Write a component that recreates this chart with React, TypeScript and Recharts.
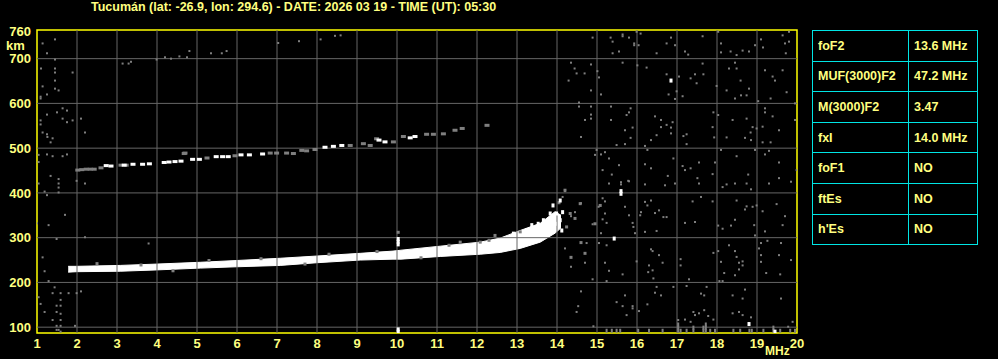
import { ComposedChart, Area, Scatter, XAxis, YAxis, ReferenceLine, ReferenceArea } from 'recharts';

const freqTicks = [1, 2, 3, 4, 5, 6, 7, 8, 9, 10, 11, 12, 13, 14, 15, 16, 17, 18, 19, 20];
const heightTicks = [100, 200, 300, 400, 500, 600, 700, 760];
const gridFreqs = [2, 3, 4, 5, 6, 7, 8, 9, 10, 11, 12, 13, 14, 15, 16, 17, 18, 19];
const gridHeights = [100, 200, 300, 400, 500, 600, 700];

const title = 'Tucumán (lat: -26.9, lon: 294.6) - DATE: 2026 03 19 - TIME (UT): 05:30';

const paramNames = ['foF2', 'MUF(3000)F2', 'M(3000)F2', 'fxI', 'foF1', 'ftEs', "h'Es"];
const paramValues = ['13.6 MHz', '47.2 MHz', '3.47', '14.0 MHz', 'NO', 'NO', 'NO'];

// F2 trace (virtual height band, km)
const traceFreq = [1.78, 2.0, 3.08, 4.0, 5.08, 6.0, 7.08, 8.0, 9.08, 9.9, 10.1, 11.08, 12.08, 12.58, 13.08, 13.58, 13.95, 14.1];
const traceLow = [223, 224, 225, 228, 232, 235, 238, 244, 250, 252, 252, 258, 263, 267, 276, 290, 310, 322];
const traceHigh = [236, 236, 238, 241, 245, 249, 254, 259, 265, 270, 272, 281, 290, 299, 316, 332, 358, 350];

// second hop echo
const echoWhite: [number, number][] = [
  [2.73, 461], [2.85, 460], [3.18, 462], [3.4, 464], [3.64, 464], [3.81, 465], [4.18, 468], [4.3, 469],
  [4.45, 470], [4.6, 471], [4.89, 475], [5.06, 475], [5.48, 481], [5.64, 481], [5.78, 481], [6.1, 485],
  [6.31, 485], [6.64, 487], [8.2, 502], [8.41, 504], [8.62, 506], [9.55, 518], [9.7, 514], [10.33, 523],
  [10.45, 526],
];
const echoGray: [number, number][] = [
  [2.02, 451], [2.12, 452], [2.23, 453], [2.33, 453], [2.43, 453], [2.6, 456], [3.1, 462], [3.23, 462],
  [4.68, 488], [5.25, 478], [5.95, 483], [6.83, 489], [6.99, 489], [7.24, 489], [7.41, 488], [7.62, 495],
  [7.74, 494], [7.95, 497], [8.83, 506], [9.16, 510], [9.33, 506], [9.49, 521], [9.91, 514], [10.16, 526],
  [10.74, 531], [10.91, 531], [11.16, 532], [11.45, 540], [11.63, 544], [12.25, 551], [4.7, 489],
];

// bright returns near the trace
const brightDots: [number, number][] = [
  [10.03, 285], [10.03, 291], [10.03, 297], [10.03, 90], [10.03, 95], [13.83, 354], [13.99, 354],
  [14.08, 383], [13.9, 372], [14.14, 357], [13.87, 343], [14.08, 339], [13.95, 331], [14.12, 316],
  [13.66, 339], [13.53, 331], [13.37, 328], [13.24, 317], [12.91, 309], [15.6, 398], [15.6, 404],
  [15.43, 298], [16.85, 651], [18.8, 107], [19.45, 90],
];

const clusterGray: [number, number][] = [
  [14.2, 406], [14.05, 378], [14.33, 354], [14.58, 376], [14.45, 343], [14.24, 324], [13.08, 313],
  [12.45, 305], [12.08, 290], [11.58, 290], [10.03, 312], [14.95, 331], [15.08, 372], [14.6, 289],
  [14.35, 256], [14.7, 265], [2.5, 242], [3.6, 239], [5.3, 249], [6.6, 253], [8.3, 263], [9.5, 269],
  [11.3, 283], [12.3, 294], [4.4, 226], [7.7, 241], [10.6, 255],
];

const noiseLeft: [number, number][] = [
  [1.14, 734], [1.45, 743], [1.25, 712], [1.45, 698], [1.1, 678], [1.45, 678], [1.45, 669], [1.89, 669],
  [1.45, 651], [1.14, 638], [1.45, 633], [1.54, 629], [1.09, 615], [1.09, 611], [1.25, 620], [1.25, 575],
  [1.5, 580], [1.64, 589], [1.75, 584], [1.64, 566], [1.75, 558], [1.89, 562], [2.1, 566], [1.09, 562],
  [1.09, 553], [1.14, 535], [1.25, 531], [1.39, 522], [1.34, 513], [2.2, 535], [1.04, 485], [1.25, 486],
  [1.39, 482], [1.64, 482], [1.75, 486], [1.04, 469], [1.34, 438], [1.54, 431], [1.54, 421], [1.54, 412],
  [1.54, 401], [1.04, 421], [1.99, 427], [2.2, 421], [1.19, 403], [1.25, 395], [1.7, 351], [1.29, 328],
  [1.0, 332], [2.2, 301], [1.49, 297], [3.79, 287], [1.14, 256], [1.19, 225], [1.29, 203], [1.44, 189],
  [1.39, 176], [1.59, 176], [1.79, 176], [1.99, 176], [2.1, 180], [1.04, 167], [1.09, 152], [1.49, 148],
  [1.59, 148], [1.59, 161], [1.19, 134], [1.49, 134], [1.59, 130], [1.39, 116], [1.59, 116], [1.49, 103],
  [1.59, 103], [1.95, 103], [1.54, 94], [1.59, 90], [1.49, 94], [1.26, 525], [3.14, 689], [3.29, 689],
  [3.35, 693], [3.99, 698], [4.2, 703], [4.35, 700], [4.56, 705], [4.75, 703], [4.81, 717], [5.35, 712],
  [5.62, 712], [5.74, 717], [7.03, 735], [7.55, 739], [8.09, 743], [8.45, 751], [8.59, 752],
];

const noiseRight: [number, number][] = [
  [14.89, 747], [15.34, 747], [15.64, 754], [15.64, 750], [15.39, 738], [15.8, 747], [15.93, 734], [15.93, 730],
  [15.99, 760], [16.09, 756], [16.04, 730], [15.55, 716], [15.39, 712], [16.49, 712], [16.74, 734],
  [16.85, 747], [16.95, 730], [17.28, 709], [17.2, 716], [17.64, 750], [18.03, 760], [18.1, 734],
  [18.1, 714], [18.34, 716], [18.49, 708], [18.64, 718], [18.8, 716], [18.95, 730], [19.1, 743],
  [19.15, 725], [19.64, 752], [19.7, 734], [19.8, 760], [19.8, 738], [19.72, 712],
  [14.35, 691], [14.44, 678], [14.49, 667], [14.69, 667], [14.85, 687], [14.29, 651], [14.85, 629],
  [15.01, 672], [15.05, 658], [15.1, 620], [15.64, 691], [16.01, 685], [16.24, 680], [16.74, 665],
  [16.79, 620], [16.95, 610], [16.99, 627], [17.05, 660], [17.14, 616], [17.34, 656], [17.45, 665],
  [17.49, 645], [17.64, 689], [17.66, 665], [17.99, 639], [18.24, 629], [18.3, 678], [18.45, 691],
  [18.49, 678], [18.59, 651], [18.6, 618], [18.45, 611], [18.74, 618], [18.8, 633], [19.03, 605],
  [19.2, 674], [19.39, 660], [19.45, 651], [19.64, 674], [19.74, 625], [19.34, 611], [19.95, 600],
  [14.55, 602], [14.55, 593], [14.85, 593], [14.85, 575], [14.85, 566], [14.7, 563], [14.6, 525],
  [15.35, 593], [15.35, 563], [15.74, 574], [15.84, 589], [15.8, 580], [15.89, 546], [15.7, 540],
  [15.84, 523], [15.49, 507], [15.7, 509], [16.45, 571], [16.6, 563], [16.74, 552], [16.85, 546],
  [16.89, 558], [16.49, 529], [16.35, 518], [16.6, 547], [16.85, 533], [17.16, 527], [17.24, 509],
  [17.24, 531], [17.91, 580], [18.03, 574], [17.89, 547], [17.93, 524], [18.24, 524], [18.39, 563],
  [18.74, 566], [18.89, 547], [18.84, 535], [18.7, 523], [18.85, 518], [19.14, 548], [19.2, 589],
  [19.2, 580], [19.39, 571], [19.55, 540], [19.14, 513], [19.34, 513], [19.95, 563], [18.99, 544],
  [14.99, 496], [14.95, 485], [15.1, 486], [15.2, 491], [15.3, 477], [15.14, 451], [15.37, 441],
  [15.55, 462], [15.6, 424], [15.78, 427], [16.2, 505], [16.26, 496], [16.2, 464], [16.35, 455],
  [16.91, 477], [16.77, 438], [17.14, 460], [17.2, 451], [17.34, 455], [17.55, 468], [17.51, 433],
  [17.95, 468], [17.89, 442], [18.1, 496], [18.49, 482], [18.78, 441], [18.95, 496], [19.2, 486],
  [19.3, 494], [19.55, 468], [19.55, 433], [19.99, 451], [19.85, 425],
  [15.3, 421], [15.6, 419], [15.8, 426], [16.2, 419], [16.7, 417], [16.95, 421], [17.55, 421],
  [18.14, 413], [18.24, 419], [18.45, 421], [18.74, 421], [18.85, 408], [19.3, 421], [14.2, 404],
  [14.14, 391], [15.14, 388], [15.2, 381], [14.6, 377], [14.45, 357], [14.35, 348], [15.04, 369],
  [15.2, 354], [15.14, 341], [15.24, 333], [14.89, 330], [15.1, 310], [15.7, 369], [15.8, 350],
  [15.89, 333], [15.91, 324], [15.95, 310], [16.1, 357], [16.08, 350], [16.2, 380], [16.26, 372],
  [16.35, 383], [16.45, 355], [16.55, 361], [16.66, 346], [16.74, 346], [16.49, 315], [16.2, 313],
  [17.2, 333], [17.45, 335], [17.39, 381], [17.6, 391], [17.89, 381], [18.03, 327], [18.14, 320],
  [18.35, 327], [18.45, 340], [18.49, 383], [18.74, 370], [18.89, 369], [18.7, 363], [18.99, 372],
  [19.14, 359], [18.93, 328], [18.95, 305], [19.2, 314], [19.49, 375], [19.7, 348], [19.64, 328],
  [14.2, 276], [14.35, 235], [14.74, 288], [14.7, 244], [14.89, 207], [15.05, 288], [15.24, 283],
  [15.2, 244], [15.3, 226], [15.24, 203], [15.64, 218], [15.99, 247], [16.35, 274], [16.39, 270],
  [16.55, 261], [16.64, 244], [16.3, 238], [16.39, 227], [16.41, 209], [16.28, 223], [17.09, 252],
  [17.09, 238], [17.3, 207], [17.91, 266], [18.03, 270], [18.1, 246], [18.3, 283], [18.45, 270],
  [18.49, 257], [18.55, 244], [18.64, 247], [18.64, 238], [18.55, 229], [18.18, 221], [18.45, 216],
  [18.06, 203], [18.14, 203], [19.1, 288], [19.05, 276], [19.1, 261], [19.1, 246], [19.26, 293],
  [19.6, 288], [19.55, 261], [19.85, 250], [19.23, 221], [19.58, 218],
  [14.6, 180], [14.53, 147], [14.49, 134], [14.91, 102], [15.7, 171], [15.49, 156], [15.64, 147],
  [15.89, 147], [15.89, 142], [15.74, 127], [16.05, 136], [16.26, 151], [16.49, 190], [16.45, 177],
  [16.6, 171], [16.91, 190], [17.24, 192], [17.03, 116], [17.2, 117], [17.34, 112], [17.41, 134],
  [17.45, 127], [17.55, 131], [17.6, 175], [17.68, 171], [17.74, 190], [17.68, 138], [17.78, 125],
  [17.91, 117], [18.39, 171], [18.39, 131], [18.55, 134], [18.64, 127], [18.64, 164], [18.7, 184],
  [18.85, 122], [19.6, 164], [19.89, 112], [19.78, 101],
];

// returns along the lower edge of the plot
const noiseBottom: [number, number][] = [
  [15.24, 92], [15.37, 92], [15.49, 92], [15.58, 92], [16.03, 92], [16.3, 92], [16.64, 92],
  [17.03, 92], [17.03, 99], [17.03, 106], [17.09, 92], [17.24, 92], [17.41, 92], [17.41, 99],
  [17.66, 92], [17.66, 99], [17.72, 92], [17.72, 99], [17.72, 106], [17.83, 92], [17.95, 92],
  [18.41, 92], [18.58, 92], [18.81, 92], [18.87, 92], [19.16, 92], [19.41, 92], [19.41, 99],
  [19.58, 92], [19.83, 92], [19.95, 92],
];

const YELLOW = '#ffff80';
const GRAY = '#7f7f7f';
const GRID = '#666666';

const toPoints = (list: [number, number][]) => list.map(([f, km]) => ({ f, km }));
const traceData = traceFreq.map((f, i) => ({ f, band: [traceLow[i], traceHigh[i]] }));

const box = (w: number, h: number, fill: string) => (props: any) => (
  <rect x={props.cx - w / 2} y={props.cy - h / 2} width={w} height={h} fill={fill} />
);

const font = '"Liberation Sans", Arial, sans-serif';

export default function App() {
  return (
    <div style={{ position: 'fixed', left: 0, top: 0, width: 998, height: 359, background: '#000', overflow: 'hidden', fontFamily: font }}>
      <div style={{ position: 'absolute', left: 91, top: 0, color: YELLOW, fontSize: 12.5, lineHeight: '14px', fontWeight: 'bold', whiteSpace: 'nowrap' }}>
        {title}
      </div>
      <ComposedChart width={998} height={359} data={traceData} margin={{ top: 30, right: 201, bottom: 0, left: 0 }}>
        <XAxis
          dataKey="f"
          type="number"
          domain={[1, 20]}
          ticks={freqTicks}
          interval={0}
          allowDataOverflow
          height={26}
          tickLine={false}
          axisLine={false}
          tickSize={4}
          tick={{ fill: YELLOW, fontSize: 13, fontWeight: 'bold', fontFamily: font }}
        />
        <YAxis
          dataKey="km"
          type="number"
          domain={[87, 764]}
          ticks={heightTicks}
          interval={0}
          allowDataOverflow
          width={37}
          tickLine={false}
          axisLine={false}
          tickSize={4}
          tick={{ fill: YELLOW, fontSize: 13, fontWeight: 'bold', fontFamily: font }}
        />
        {gridFreqs.map((v) => (
          <ReferenceLine key={'gx' + v} x={v} stroke={GRID} strokeWidth={1} />
        ))}
        {gridHeights.map((v) => (
          <ReferenceLine key={'gy' + v} y={v} stroke={GRID} strokeWidth={1} />
        ))}
        <Scatter data={toPoints(noiseLeft)} dataKey="km" shape={box(2, 2, GRAY)} isAnimationActive={false} />
        <Scatter data={toPoints(noiseRight)} dataKey="km" shape={box(2, 2, GRAY)} isAnimationActive={false} />
        <Scatter data={toPoints(noiseBottom)} dataKey="km" shape={box(2, 4, GRAY)} isAnimationActive={false} />
        <Scatter data={toPoints(echoGray)} dataKey="km" shape={box(5, 3, GRAY)} isAnimationActive={false} />
        <Scatter data={toPoints(echoWhite)} dataKey="km" shape={box(5, 3, '#ffffff')} isAnimationActive={false} />
        <Area
          type="linear"
          dataKey="band"
          stroke="#ffffff"
          strokeWidth={1}
          fill="#ffffff"
          fillOpacity={1}
          isAnimationActive={false}
          dot={false}
          activeDot={false}
        />
        <Scatter data={toPoints(clusterGray)} dataKey="km" shape={box(3, 3, GRAY)} isAnimationActive={false} />
        <Scatter data={toPoints(brightDots)} dataKey="km" shape={box(3, 4, '#ffffff')} isAnimationActive={false} />
        <ReferenceArea x1={1} x2={20} y1={87} y2={764} fill="none" stroke="#ffff00" strokeWidth={1.5} ifOverflow="extendDomain" />
      </ComposedChart>
      <div style={{ position: 'absolute', left: 6, top: 38, color: YELLOW, fontSize: 13, fontWeight: 'bold' }}>km</div>
      <div style={{ position: 'absolute', left: 765, top: 344, color: YELLOW, fontSize: 12, fontWeight: 'bold' }}>MHz</div>
      <table
        style={{
          position: 'absolute',
          left: 812,
          top: 30,
          width: 166,
          height: 214,
          borderCollapse: 'collapse',
          color: YELLOW,
          fontSize: 12.5,
          fontWeight: 'bold',
          fontFamily: font,
        }}
      >
        <tbody>
          {paramNames.map((name, i) => (
            <tr key={name} style={{ height: 30.6 }}>
              <td style={{ border: '1px solid #00e5e5', padding: '0 0 0 5px', width: 90 }}>{name}</td>
              <td style={{ border: '1px solid #00e5e5', padding: '0 0 0 5px' }}>{paramValues[i]}</td>
            </tr>
          ))}
        </tbody>
      </table>
    </div>
  );
}
